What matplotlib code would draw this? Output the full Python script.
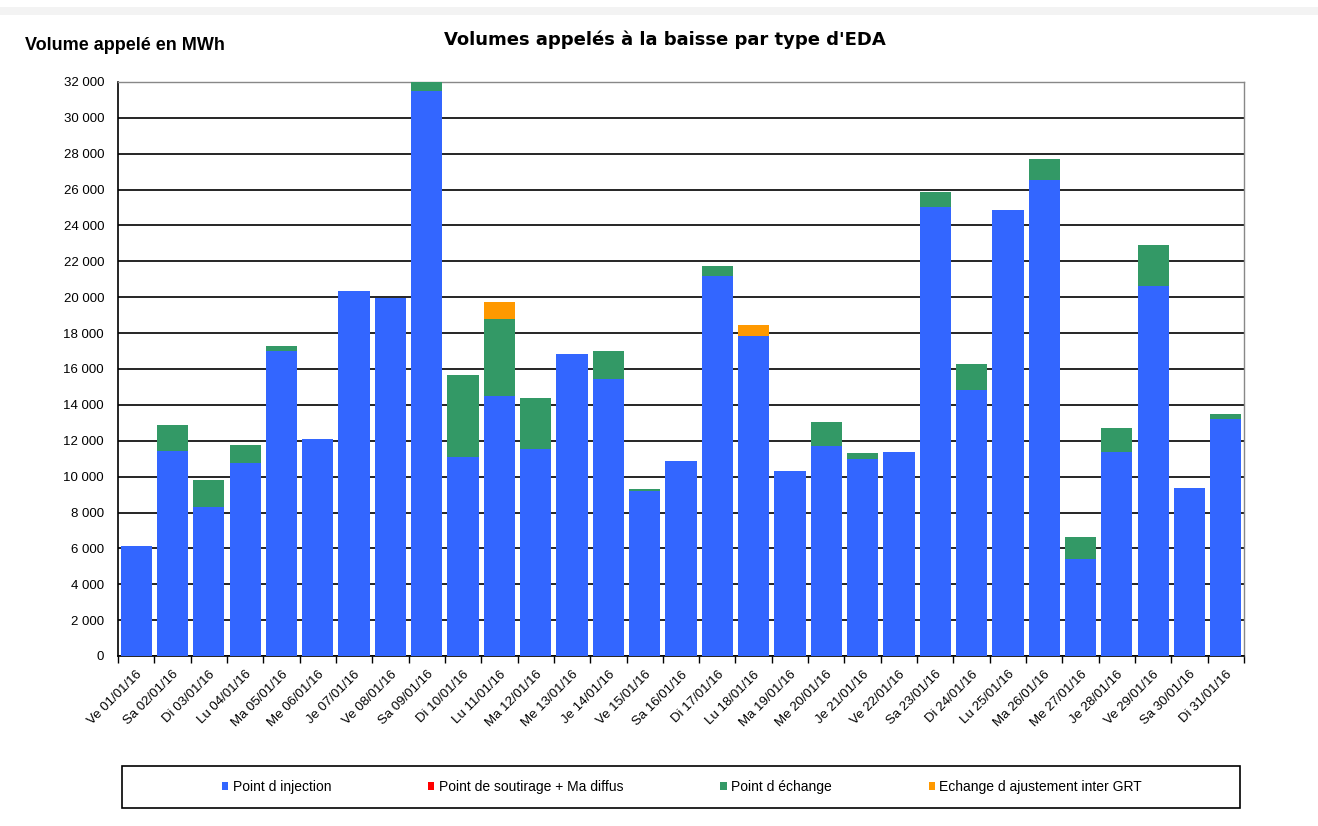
import matplotlib
matplotlib.use("Agg")
import matplotlib.pyplot as plt
from matplotlib.patches import Rectangle, Patch
import numpy as np

plt.rcParams['font.family'] = ['Liberation Sans', 'DejaVu Sans']

categories = ["Ve 01/01/16", "Sa 02/01/16", "Di 03/01/16", "Lu 04/01/16", "Ma 05/01/16",
              "Me 06/01/16", "Je 07/01/16", "Ve 08/01/16", "Sa 09/01/16", "Di 10/01/16",
              "Lu 11/01/16", "Ma 12/01/16", "Me 13/01/16", "Je 14/01/16", "Ve 15/01/16",
              "Sa 16/01/16", "Di 17/01/16", "Lu 18/01/16", "Ma 19/01/16", "Me 20/01/16",
              "Je 21/01/16", "Ve 22/01/16", "Sa 23/01/16", "Di 24/01/16", "Lu 25/01/16",
              "Ma 26/01/16", "Me 27/01/16", "Je 28/01/16", "Ve 29/01/16", "Sa 30/01/16",
              "Di 31/01/16"]

injection = [6130, 11430, 8300, 10760, 17000, 12100, 20350, 19960, 31500, 11090,
             14490, 11540, 16830, 15440, 9200, 10870, 21180, 17840, 10310, 11700,
             10980, 11370, 25030, 14830, 24860, 26530, 5410, 11370, 20620, 9360, 13210]
soutirage = [0] * 31
echange = [0, 1450, 1510, 1000, 280, 0, 0, 0, 500, 4570,
           4290, 2840, 0, 1560, 100, 0, 560, 0, 0, 1340,
           340, 0, 830, 1450, 0, 1170, 1220, 1340, 2290, 0, 280]
ajustement = [0] * 31
ajustement[10] = 950
ajustement[17] = 610

series_names = ["Point d injection", "Point de soutirage + Ma diffus",
                "Point d échange", "Echange d ajustement inter GRT"]
colors = ["#3366FF", "#FF0000", "#339966", "#FF9900"]

fig = plt.figure(figsize=(13.18, 8.26), dpi=100)
fig.patches.append(Rectangle((0, 1 - 15/826), 1, 8/826, transform=fig.transFigure,
                             facecolor="#f3f3f3", edgecolor="none", zorder=0))

ax = fig.add_axes([118/1318, 1 - 656/826, (1244-118)/1318, (656-82)/826])
x = np.arange(len(categories))
w = 0.86
bottom = np.zeros(len(categories))
for vals, col in zip([injection, soutirage, echange, ajustement], colors):
    v = np.array(vals, dtype=float)
    ax.bar(x, v, w, bottom=bottom, color=col, edgecolor="none", zorder=3)
    bottom += v

ax.set_xlim(-0.5, len(categories) - 0.5)
ax.set_ylim(0, 32000)
yt = np.arange(0, 32001, 2000)
ax.set_yticks(yt)
ax.set_yticklabels([f"{int(v):,}".replace(",", " ") for v in yt], fontsize=9.5)
ax.yaxis.grid(True, color="black", lw=1.2, zorder=1)
ax.set_axisbelow(True)
ax.tick_params(axis="y", length=0, pad=10)

ax.set_xticks(x)
ax.set_xticklabels(categories, rotation=45, ha="right", rotation_mode="anchor",
                   fontsize=9.5)
ax.tick_params(axis="x", which="major", length=0, pad=9)
ax.set_xticks(np.arange(-0.5, len(categories)), minor=True)
ax.tick_params(axis="x", which="minor", length=5, width=1, direction="out")

for s in ["left", "bottom"]:
    ax.spines[s].set_color("black")
    ax.spines[s].set_linewidth(1.2)
for s in ["top", "right"]:
    ax.spines[s].set_color("#888888")
    ax.spines[s].set_linewidth(1.0)

fig.text(25/1318, 1 - 45/826, "Volume appelé en MWh", fontsize=13, fontweight="bold",
         va="center", ha="left")
fig.text(665/1318, 1 - 40/826, "Volumes appelés à la baisse par type d'EDA", fontsize=13,
         fontweight="bold", va="center", ha="center", family="DejaVu Sans")

fig.patches.append(Rectangle((122/1318, 1 - 808/826), (1240-122)/1318, 42/826,
                             transform=fig.transFigure, facecolor="none",
                             edgecolor="black", lw=1.2, zorder=5))
handles = [Patch(facecolor=c, edgecolor="none") for c in colors]
fig.legend(handles, series_names, loc="center", bbox_to_anchor=(682/1318, 1 - 787/826),
           ncol=4, frameon=False, fontsize=10, handlelength=0.45, handleheight=0.45,
           handletextpad=0.3, columnspacing=7.0)

fig.savefig("out.png", dpi=100, facecolor="white")
